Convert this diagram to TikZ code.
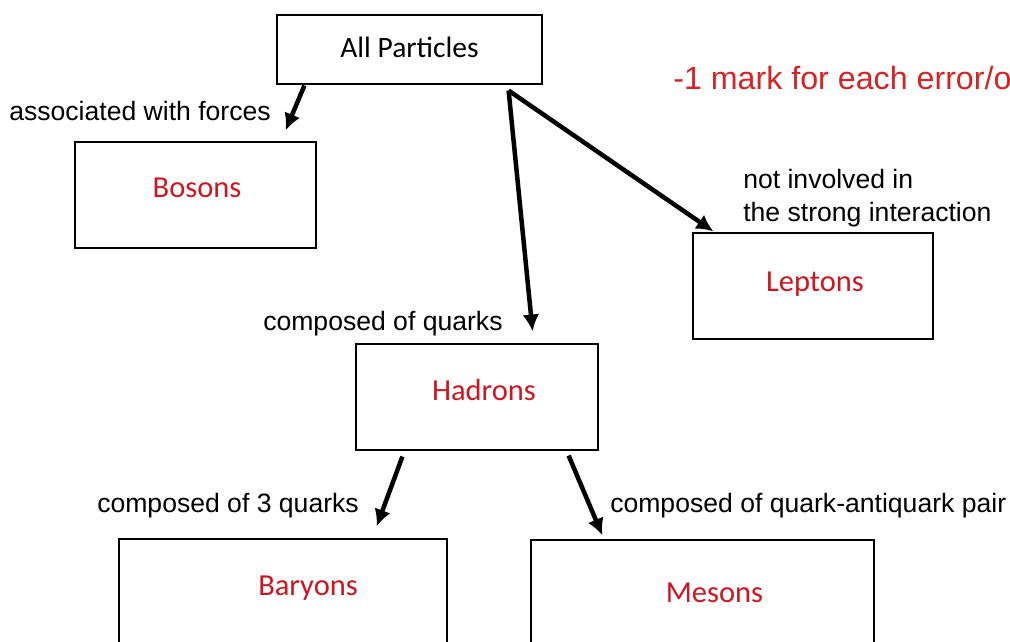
\documentclass[tikz,border=0pt]{standalone}
\usepackage{fontspec}
\setmainfont{Liberation Sans}
\newfontfamily\boxfont{Carlito}
\usepackage{xcolor}
\usepackage{tikz}
\usetikzlibrary{arrows.meta,positioning,calc}

\definecolor{markred}{RGB}{214,36,36}
\definecolor{namered}{RGB}{205,22,32}

\begin{document}
\begin{tikzpicture}[
    x=0.025cm, y=-0.025cm,
    box/.style={rectangle, draw, line width=0.8pt, text depth=0.3cm, align=center,
        font=\boxfont\fontsize{21.7}{26}\selectfont, text=namered},
    lbl/.style={anchor=west, inner sep=0pt, align=left, font=\fontsize{18.9}{23.4}\selectfont},
    arrow/.style={-{Latex[length=12pt,width=12pt]}, line width=3.2pt}
]
    \useasboundingbox (0,0) rectangle (1010,642);

    % boxes
    \node[box, text=black, text depth=0.1cm, font=\boxfont\fontsize{21}{25}\selectfont,
        minimum width=6.625cm, minimum height=1.725cm] (all) at (409.5,49.5) {All Particles};
    \node[box, text depth=0.375cm, minimum width=6.025cm, minimum height=2.65cm] (bosons) at (195.5,195) {\hspace*{0.075cm}Bosons};
    \node[box, text depth=0.2cm, minimum width=6cm, minimum height=2.65cm] (leptons) at (813,286) {\hspace*{0.1cm}Leptons};
    \node[box, text depth=0.35cm, minimum width=6.05cm, minimum height=2.65cm] (hadrons) at (477,397) {\hspace*{0.35cm}Hadrons};
    \node[box, minimum width=8.2cm, minimum height=2.65cm] (baryons) at (283,592) {\hspace*{1.25cm}Baryons};
    \node[box, text depth=0cm, minimum width=8.575cm, minimum height=2.65cm] (mesons) at (702.5,593) {\hspace*{0.6cm}Mesons};

    % labels
    \node[lbl] (forces) at (9,111) {associated with forces};
    \node[lbl] (strong) at (743,198.5) {not involved in\\the strong interaction};
    \node[lbl] (quarks) at (263,324) {composed of quarks};
    \node[lbl] (three) at (97,506) {composed of 3 quarks};
    \node[lbl] (pair) at (610,506) {composed of quark-antiquark pair};
    \node[lbl, text=markred, font=\fontsize{22.9}{27}\selectfont] (note) at (673,78) {-1 mark for each error/o};

    % arrows
    \draw[arrow] ($(all.south west)+(28,1)$) -- ($(bosons.north east)+(-31,-11)$);
    \draw[arrow] ($(all.south east)+(-34,6)$) -- ($(hadrons.north east)+(-66,-12)$);
    \draw[arrow] ($(all.south east)+(-34,6)$) -- ($(leptons.north west)+(21,-1)$);
    \draw[arrow] ($(hadrons.south west)+(47,6)$) -- ($(baryons.north east)+(-71,-12)$);
    \draw[arrow] ($(hadrons.south east)+(-30,5)$) -- ($(mesons.north west)+(72,-4)$);
\end{tikzpicture}
\end{document}
